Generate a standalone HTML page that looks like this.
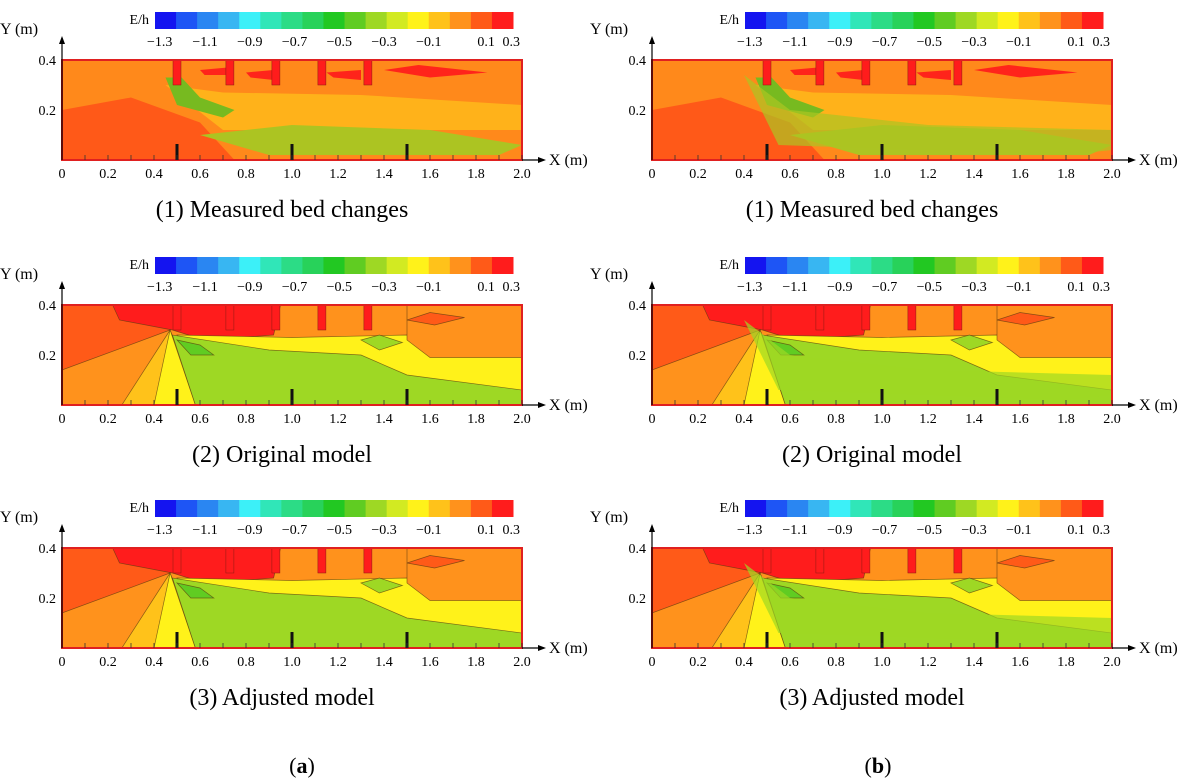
<!DOCTYPE html>
<html><head><meta charset="utf-8"><style>
body{margin:0;background:#fff;}
svg{display:block;font-family:"Liberation Serif",serif;}
</style></head><body>
<svg id="fig" width="1188" height="784" viewBox="0 0 1188 784" xmlns="http://www.w3.org/2000/svg"></svg>
<script>
const cbColors=["#1414f0","#1e55f5","#2a86f2","#38b6f2","#3cf0f8","#30e6b8","#2cdc86","#28d25a","#22c822","#60cc22","#9ed824","#d2ea22","#fff21a","#ffc21a","#ff921c","#ff5a18","#ff1c1c"];
const cbLabels=["\u22121.3","\u22121.1","\u22120.9","\u22120.7","\u22120.5","\u22120.3","\u22120.1","0.1","0.3"];
const cbLabelPos=[0.013,0.14,0.265,0.39,0.515,0.64,0.765,0.925,0.995];
const xTicks=[0,0.2,0.4,0.6,0.8,1.0,1.2,1.4,1.6,1.8,2.0];
const groynes=[0.5,0.73,0.93,1.13,1.33];
const titles=["(1) Measured bed changes","(2) Original model","(3) Adjusted model"];
const colX=[62,652];
const rowY=[60,305,548];
const W=460,H=100;
const svg=document.getElementById('fig');
const NS="http://www.w3.org/2000/svg";
function el(t,a,p){const e=document.createElementNS(NS,t);for(const k in a)e.setAttribute(k,a[k]);(p||svg).appendChild(e);return e;}
function sx(x){return x/2*W;} function sy(y){return H-y/0.4*H;}
function P(pts){return pts.map((p,i)=>(i?'L':'M')+sx(p[0]).toFixed(1)+' '+sy(p[1]).toFixed(1)).join(' ')+' Z';}
const C={red:"#ff1c1c",ro:"#ff5a18",or:"#ff921c",yo:"#ffc21a",ye:"#fff21a",ly:"#d2ea22",lg:"#9ed824",g:"#60cc22",dg:"#28d25a",cy:"#30e6b8"};
const regions={
 measured:[
  [C.ro,[[0,0],[0.75,0],[0.6,0.15],[0.3,0.25],[0,0.2]]],
  [C.yo,[[0.45,0.3],[0.7,0.12],[1.1,0.12],[2,0.12],[2,0.22],[1.3,0.26],[0.7,0.27]]],
  [C.lg,[[0.6,0.1],[0.9,0.02],[1.9,0.02],[2,0.06],[1.6,0.12],[1,0.14]]],
  [C.g,[[0.45,0.33],[0.5,0.22],[0.7,0.17],[0.75,0.2],[0.6,0.25],[0.52,0.33]]],
  [C.red,[[1.4,0.36],[1.55,0.38],[1.85,0.35],[1.6,0.33]]],
  [C.red,[[0.6,0.36],[0.72,0.37],[0.72,0.34],[0.62,0.34]]],
  [C.red,[[0.8,0.35],[0.92,0.36],[0.92,0.32],[0.82,0.33]]],
  [C.red,[[1.15,0.35],[1.3,0.36],[1.3,0.32],[1.18,0.33]]]
 ],
 model:[
  [C.ro,[[0,0.4],[0.46,0.4],[0.47,0.3],[0,0.14]]],
  [C.red,[[0.22,0.4],[0.95,0.4],[0.92,0.28],[0.62,0.26],[0.48,0.3],[0.25,0.34]]],
  [C.yo,[[0.47,0.3],[0.26,0],[0.6,0]]],
  [C.ye,[[0.47,0.3],[0.4,0],[0.58,0]]],
  [C.ye,[[0.5,0.28],[1,0.27],[1.5,0.28],[2,0.2],[2,0.02],[0.65,0]]],
  [C.lg,[[0.48,0.28],[0.58,0],[2,0],[2,0.06],[1.5,0.12],[1.3,0.2],[0.9,0.22]]],
  [C.g,[[0.5,0.26],[0.56,0.2],[0.66,0.2],[0.6,0.24]]],
  [C.lg,[[1.3,0.26],[1.38,0.28],[1.48,0.25],[1.38,0.22]]],
  [C.or,[[1.5,0.4],[2,0.4],[2,0.19],[1.6,0.19],[1.5,0.26]]],
  [C.ro,[[1.5,0.34],[1.6,0.37],[1.75,0.35],[1.62,0.32]]]
 ]
};
function panel(col,row){
 const x0=colX[col],y0=rowY[row];
 const g=el('g',{transform:`translate(${x0},${y0})`});
 
 
 const cbx=93,cbw=358,cby=-48,cbh=17;
 const n=cbColors.length;
 cbColors.forEach((c,i)=>{const r=el('rect',{x:cbx+i*cbw/n,y:cby,width:cbw/n+0.5,height:cbh,fill:c},g);
  });
 const t=el('text',{x:cbx-6,y:cby+12,'text-anchor':'end','font-size':14},g);t.textContent='E/h';
 
 cbLabels.forEach((l,i)=>{const tt=el('text',{x:cbx+cbLabelPos[i]*cbw,y:cby+34,'text-anchor':'middle','font-size':14},g);tt.textContent=l;
  });
 el('rect',{x:0,y:0,width:W,height:H,fill:C.or},g);
 const regs=row==0?regions.measured:regions.model;
 regs.forEach(([c,pts])=>{const p=el('path',{d:P(pts),fill:c,stroke:row==0?'none':'#5a3a10','stroke-width':0.7,'stroke-opacity':0.7},g);
  });
 if(col==1){const p=el('path',{d:P([[0.4,0.34],[0.55,0.06],[1.8,0.02],[2,0.04],[2,0.12],[1.2,0.14],[0.6,0.2]]),fill:C.lg,opacity:0.7},g);
  }
 if(row==0){const f=el('rect',{x:0,y:0,width:W,height:H,fill:C.ro,opacity:0.15},g);}
 groynes.forEach(gx=>{const r=el('rect',{x:sx(gx)-4,y:0,width:8,height:sy(0.3),fill:C.red,stroke:'#8a1a10','stroke-width':0.5},g);
  });
 el('rect',{x:0,y:0,width:W,height:H,fill:'none',stroke:'#e02020','stroke-width':2},g);
 [0.5,1.0,1.5].forEach(v=>el('rect',{x:sx(v)-1.5,y:H-16,width:3,height:16,fill:'#111'},g));
 for(let i=0;i<=20;i++)el('line',{x1:sx(i*0.1),x2:sx(i*0.1),y1:H,y2:H-5,stroke:'#333','stroke-width':0.8},g);
 el('line',{x1:0,y1:H,x2:0,y2:-22,stroke:'#000','stroke-width':1.2},g);
 el('path',{d:'M-3 -16 L0 -24 L3 -16 Z',fill:'#000'},g);
 el('line',{x1:W,y1:H,x2:W+20,y2:H,stroke:'#000','stroke-width':1.2},g);
 el('path',{d:`M${W+16} ${H-3} L${W+24} ${H} L${W+16} ${H+3} Z`,fill:'#000'},g);
 const xl=el('text',{x:W+27,y:H+5,'font-size':16},g);xl.textContent='X (m)';
 const yl=el('text',{x:-62,y:-26,'font-size':16},g);yl.textContent='Y (m)';
 [[0.4,'0.4'],[0.2,'0.2']].forEach(([v,s])=>{const tt=el('text',{x:-6,y:sy(v)+5,'text-anchor':'end','font-size':14},g);tt.textContent=s;
  });
 xTicks.forEach(v=>{const tt=el('text',{x:sx(v),y:H+18,'text-anchor':'middle','font-size':14},g);tt.textContent=v==0?'0':v.toFixed(1);
  });
 const ti=el('text',{x:W/2-10,y:H+57,'text-anchor':'middle','font-size':24},g);ti.textContent=titles[row];
 
}
for(let c=0;c<2;c++)for(let r=0;r<3;r++)panel(c,r);
[['(a)',302],['(b)',878]].forEach(([s,x])=>{const t=el('text',{x:x,y:773,'text-anchor':'middle','font-size':22});
 t.innerHTML=s=='(a)'?'(<tspan font-weight="bold">a</tspan>)':'(<tspan font-weight="bold">b</tspan>)';
 });
</script>
</body></html>
